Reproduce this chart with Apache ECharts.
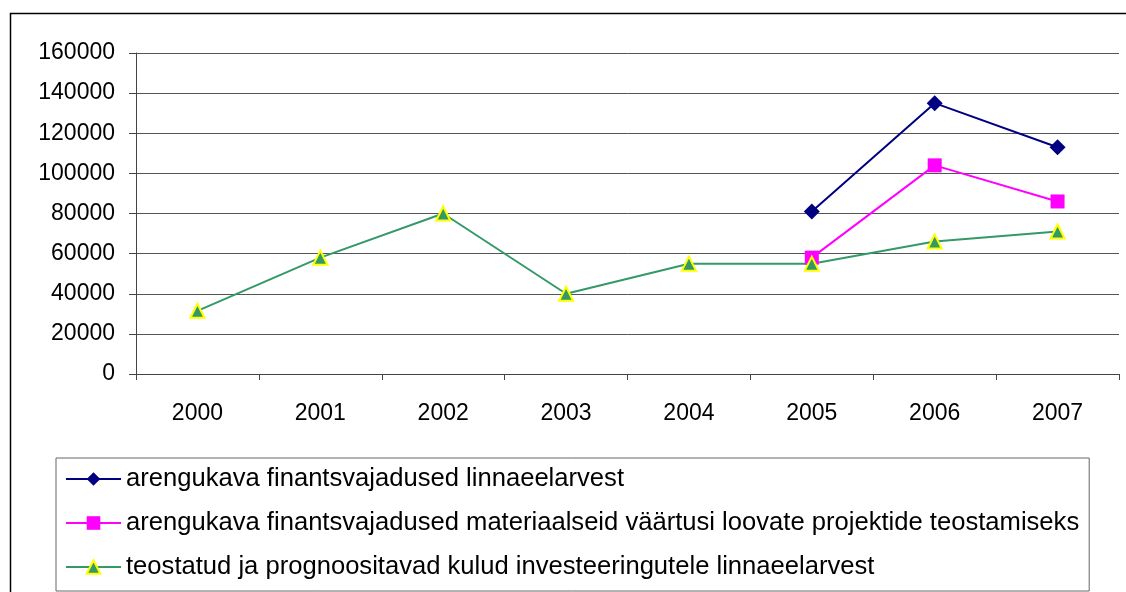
<!DOCTYPE html>
<html>
<head>
<meta charset="utf-8">
<script src="https://cdn.jsdelivr.net/npm/echarts@6/dist/echarts.min.js"></script>
<style>html,body{margin:0;padding:0;background:#fff;}#c{width:1126px;height:592px;}</style>
</head>
<body>
<div id="c"></div>
<script>
const categories = ['2000','2001','2002','2003','2004','2005','2006','2007'];
const seriesNames = [
  'arengukava finantsvajadused linnaeelarvest',
  'arengukava finantsvajadused materiaalseid väärtusi loovate projektide teostamiseks',
  'teostatud ja prognoositavad kulud investeeringutele linnaeelarvest'
];
const blueValues = [null, null, null, null, null, 81000, 135000, 113000];
const pinkValues = [null, null, null, null, null, 58000, 104000, 86000];
const greenValues = [31500, 58000, 80000, 40000, 55000, 55000, 66000, 71000];

const FONT = '"Liberation Sans", Arial, sans-serif';
const chart = echarts.init(document.getElementById('c'), null, {renderer: 'canvas'});
chart.setOption({
  animation: false,
  backgroundColor: '#fff',
  textStyle: {fontFamily: FONT},
  graphic: [{
    type: 'rect', left: 8, top: 11, z: 0,
    shape: {x: 0, y: 0, width: 1130, height: 600},
    style: {fill: 'none', stroke: '#000', lineWidth: 1.5}
  }],
  grid: {left: 136, right: 7, top: 53, bottom: 218, containLabel: false},
  xAxis: {
    type: 'category', data: categories, boundaryGap: true,
    axisLine: {lineStyle: {color: '#444', width: 1}},
    axisTick: {show: true, length: 6, lineStyle: {color: '#444'}},
    axisLabel: {color: '#000', fontSize: 23, fontFamily: FONT, margin: 28},
    splitLine: {show: false}
  },
  yAxis: {
    type: 'value', min: 0, max: 160000, interval: 20000,
    axisLine: {show: true, lineStyle: {color: '#444', width: 1}},
    axisTick: {show: true, length: 7, lineStyle: {color: '#444'}},
    axisLabel: {color: '#000', fontSize: 23, fontFamily: FONT, margin: 21,
      formatter: function (v) { return String(v); }},
    splitLine: {show: true, lineStyle: {color: '#555', width: 1}}
  },
  legend: {
    orient: 'vertical', left: 56, top: 458, height: 300,
    padding: [8, 10, 11, 9],
    borderColor: '#666', borderWidth: 1,
    itemWidth: 55, itemHeight: 17, itemGap: 18,
    textStyle: {color: '#000', fontSize: 25.6, fontFamily: FONT},
    data: seriesNames
  },
  series: [
    {
      name: seriesNames[0], type: 'line', data: blueValues,
      symbol: 'diamond', symbolSize: 16,
      lineStyle: {color: '#000080', width: 2},
      itemStyle: {color: '#000080'}
    },
    {
      name: seriesNames[1], type: 'line', data: pinkValues,
      symbol: 'rect', symbolSize: 14,
      lineStyle: {color: '#FF00FF', width: 2},
      itemStyle: {color: '#FF00FF'}
    },
    {
      name: seriesNames[2], type: 'line', data: greenValues,
      symbol: 'triangle', symbolSize: 14,
      lineStyle: {color: '#339966', width: 2},
      itemStyle: {color: '#339966', borderColor: '#FFFF00', borderWidth: 2}
    }
  ]
});
</script>
</body>
</html>
